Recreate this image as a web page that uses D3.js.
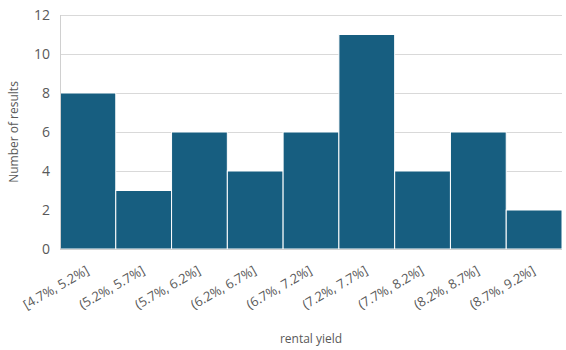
<!DOCTYPE html>
<html><head><meta charset="utf-8">
<script src="https://cdn.jsdelivr.net/npm/d3@7"></script>
<style>body{margin:0;background:#fff;} text{font-family:"Open Sans","Noto Sans",sans-serif;fill:#595959;}</style>
</head><body>
<svg id="c" width="566" height="350"></svg>
<script>
const categories = ["[4.7%, 5.2%]","(5.2%, 5.7%]","(5.7%, 6.2%]","(6.2%, 6.7%]","(6.7%, 7.2%]","(7.2%, 7.7%]","(7.7%, 8.2%]","(8.2%, 8.7%]","(8.7%, 9.2%]"];
const counts = [8,3,6,4,6,11,4,6,2];
const yTicks = [0,2,4,6,8,10,12];
const xTitle = "rental yield";
const yTitle = "Number of results";

const svg = d3.select("#c");
const m = {l:60, r:4, t:15, b:101};
const W = 566, H = 350;
const x = d3.scaleBand().domain(categories).range([m.l, W - m.r]).padding(0);
const y = d3.scaleLinear().domain([0,12]).range([H - m.b, m.t]);

// grid
svg.append("g").selectAll("line").data(yTicks.filter(d=>d>0)).join("line")
  .attr("x1", m.l).attr("x2", W - m.r)
  .attr("y1", d=>y(d)+0.5).attr("y2", d=>y(d)+0.5)
  .attr("stroke","#d9d9d9").attr("stroke-width",1);

// bars
svg.append("g").selectAll("rect").data(counts).join("rect")
  .attr("x",(d,i)=>x(categories[i]))
  .attr("width", x.bandwidth())
  .attr("y", d=>y(d))
  .attr("height", d=>y(0)-y(d))
  .attr("fill","#175e80")
  .attr("stroke","#ffffff").attr("stroke-width",1);

// axis lines
svg.append("line").attr("x1",m.l+0.5).attr("x2",m.l+0.5).attr("y1",m.t).attr("y2",y(0)).attr("stroke","#d0d0d0");
svg.append("line").attr("x1",m.l).attr("x2",W-m.r).attr("y1",y(0)+0.5).attr("y2",y(0)+0.5).attr("stroke","#d0d0d0");

// y tick labels
svg.append("g").selectAll("text").data(yTicks).join("text")
  .attr("x", m.l - 10).attr("y", d=>y(d)).attr("dy","0.35em")
  .attr("text-anchor","end").attr("font-size",14).text(d=>d);

// x tick labels
svg.append("g").selectAll("text").data(categories).join("text")
  .attr("text-anchor","end").attr("font-size",13)
  .attr("transform", d=>`translate(${x(d)+x.bandwidth()/2+2},${y(0)+24}) rotate(-30)`)
  .text(d=>d);

// titles
svg.append("text").attr("x",(m.l+W-m.r)/2).attr("y",343).attr("text-anchor","middle").attr("font-size",12).text(xTitle);
svg.append("text").attr("transform",`translate(18,${(m.t+y(0))/2}) rotate(-90)`).attr("text-anchor","middle").attr("font-size",12).text(yTitle);
</script>
</body></html>
